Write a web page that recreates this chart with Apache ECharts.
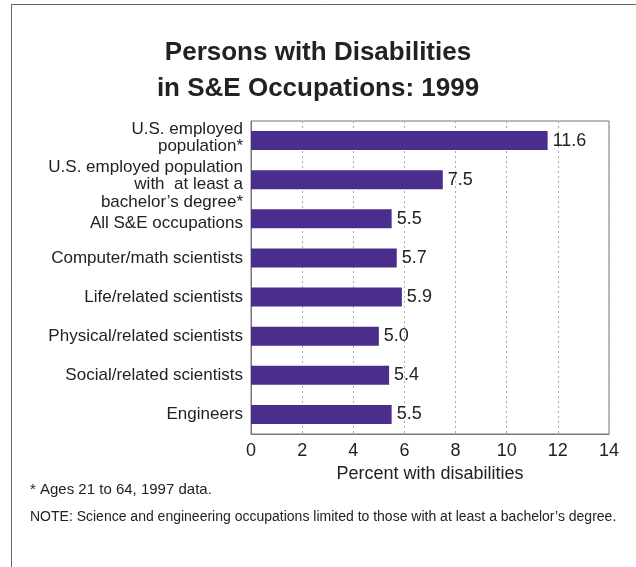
<!DOCTYPE html>
<html>
<head>
<meta charset="utf-8">
<script src="https://cdn.jsdelivr.net/npm/echarts@6/dist/echarts.min.js"></script>
<style>
  html, body { margin: 0; padding: 0; background: #fff; }
  #chart { width: 636px; height: 567px; }
</style>
</head>
<body>
<div id="chart"></div>
<script>
// data
var categories = [
  "U.S. employed\npopulation*",
  "U.S. employed population\nwith  at least a\nbachelor\u2019s degree*",
  "All S&E occupations",
  "Computer/math scientists",
  "Life/related scientists",
  "Physical/related scientists",
  "Social/related scientists",
  "Engineers"
];
var percents = [11.6, 7.5, 5.5, 5.7, 5.9, 5.0, 5.4, 5.5];
var xTicks = [0, 2, 4, 6, 8, 10, 12, 14];

var font = "Liberation Sans, Arial, Helvetica, sans-serif";
var chart = echarts.init(document.getElementById("chart"));

// the top rows are spaced wider in the reference; nudge their labels
// with a thin blank line above (shift down) or below (shift up)
var nudges = [-6, 10, 8, 0, 0, 0, 0, 0];
function labelText(value, index) {
  var body = value.split("\n").map(function (l) { return "{t|" + l + "}"; }).join("\n");
  var n = nudges[index] || 0;
  if (n > 0) return "{g" + n + "| }\n" + body;
  if (n < 0) return body + "\n{g" + (-n) + "| }";
  return body;
}

var option = {
  animation: false,
  graphic: [
    // outer frame
    { type: "rect", shape: { x: 11.5, y: 4.5, width: 640, height: 580 },
      style: { fill: "none", stroke: "#666", lineWidth: 1 } },
    { type: "text", left: "center", top: 35,
      style: { text: "Persons with Disabilities\nin S&E Occupations: 1999",
        font: "bold 26px " + font, fill: "#222", textAlign: "center", lineHeight: 36 } },
    { type: "text", left: 30, top: 482,
      style: { text: "* Ages 21 to 64, 1997 data.", font: "15px " + font, fill: "#222" } },
    { type: "text", left: 30, top: 510,
      style: { text: "NOTE: Science and engineering occupations limited to those with at least a bachelor\u2019s degree.",
        font: "14px " + font, fill: "#222" } }
  ],
  grid: {
    left: 251, right: 27, top: 121, bottom: 133,
    show: true, borderColor: "#777", borderWidth: 1
  },
  xAxis: {
    type: "value",
    min: 0, max: 14, interval: 2,
    name: "Percent with disabilities",
    nameLocation: "middle",
    nameGap: 31,
    nameTextStyle: { fontFamily: font, fontSize: 18, color: "#222" },
    axisLine: { show: true, lineStyle: { color: "#777" } },
    axisTick: { show: false },
    axisLabel: {
      fontFamily: font, fontSize: 18, color: "#222", margin: 8,
      formatter: function (v) { return xTicks.indexOf(v) >= 0 ? String(v) : ""; }
    },
    splitLine: { show: true, lineStyle: { color: "#aaa", type: [2, 3], width: 1 } }
  },
  yAxis: {
    type: "category",
    data: categories,
    inverse: true,
    axisLine: { show: true, lineStyle: { color: "#777" } },
    axisTick: { show: false },
    axisLabel: {
      interval: 0, hideOverlap: false,
      fontFamily: font, fontSize: 17, color: "#222", margin: 8,
      align: "right",
      formatter: labelText,
      rich: {
        t: { fontFamily: font, fontSize: 17, color: "#222", lineHeight: 17.5 },
        g6: { fontSize: 4, lineHeight: 6 },
        g8: { fontSize: 4, lineHeight: 8 },
        g10: { fontSize: 4, lineHeight: 10 }
      }
    }
  },
  series: [{
    type: "bar",
    data: percents,
    barWidth: 19,
    itemStyle: { color: "#4a2d8c" },
    label: {
      show: true, position: "right", distance: 5,
      fontFamily: font, fontSize: 18, color: "#222",
      formatter: function (p) { return p.value.toFixed(1); }
    }
  }]
};

chart.setOption(option);
</script>
</body>
</html>
